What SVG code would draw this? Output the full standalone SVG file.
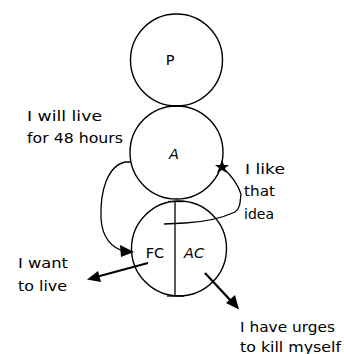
<svg xmlns="http://www.w3.org/2000/svg" width="344" height="354" viewBox="0 0 344 354">
<style>
.c{fill:none;stroke:#000;stroke-width:1.4}
.l{fill:none;stroke:#000;stroke-width:1.3}
.a{fill:none;stroke:#000;stroke-width:2.2}
text{font-family:"DejaVu Sans","Liberation Sans",sans-serif;font-size:14px;fill:#000}
.n{font-size:14.5px;text-anchor:middle}
</style>
<g id="P"><circle class="c" cx="176.5" cy="60" r="46"/><text class="n" x="170" y="65" font-size="13">P</text></g>
<g id="A"><circle class="c" cx="176.5" cy="152.5" r="46.5"/><text class="n" x="174" y="159" font-style="italic">A</text></g>
<g id="C"><circle class="c" cx="179" cy="248.5" r="47.5"/>
<line class="l" x1="175" y1="201" x2="175" y2="296"/>
<line class="l" x1="168" y1="201.5" x2="184" y2="201.5"/>
<line class="l" x1="167" y1="296" x2="184" y2="296"/>
<text class="n" x="155" y="258">FC</text><text class="n" x="194" y="258" font-style="italic">AC</text></g>
<g id="connectors">
<line x1="170" y1="106" x2="184" y2="106" stroke="#000" stroke-width="2"/>
<path class="l" d="M131,162 L125,162 C108,166 100,190 101,218 C102,238 112,248 124,251"/>
<path d="M134,252 L120,245 L121,257 z" fill="#000"/>
<path class="l" d="M164,224 L185,223 C205,222 222,218 235,212 C241,208 240,200 241,194 C238,185 232,176 223,168"/>
<path d="M222,160 L224,165 L229,165 L225,168 L227,173 L222,170 L217,173 L219,168 L215,165 L220,165 z" fill="#000"/>
<line class="a" x1="148" y1="263" x2="96" y2="277"/>
<path d="M87,279.5 L98,271 L101,282 z" fill="#000"/>
<line class="a" x1="205" y1="273" x2="232" y2="302"/>
<path d="M239,309.5 L226,303 L235,295 z" fill="#000"/>
</g>
<g id="labels">
<text x="27" y="121" textLength="75" lengthAdjust="spacingAndGlyphs">I will live</text>
<text x="27" y="142.5" textLength="96" lengthAdjust="spacingAndGlyphs">for 48 hours</text>
<text x="245" y="174" textLength="40" lengthAdjust="spacingAndGlyphs">I like</text>
<text x="244" y="195.5" textLength="31" lengthAdjust="spacingAndGlyphs">that</text>
<text x="244" y="218.5" textLength="30" lengthAdjust="spacingAndGlyphs">idea</text>
<text x="18" y="268" textLength="50" lengthAdjust="spacingAndGlyphs">I want</text>
<text x="18" y="291" textLength="49" lengthAdjust="spacingAndGlyphs">to live</text>
<text x="240" y="331.5" textLength="95" lengthAdjust="spacingAndGlyphs">I have urges</text>
<text x="240" y="352" textLength="101" lengthAdjust="spacingAndGlyphs">to kill myself</text>
</g>
</svg>
